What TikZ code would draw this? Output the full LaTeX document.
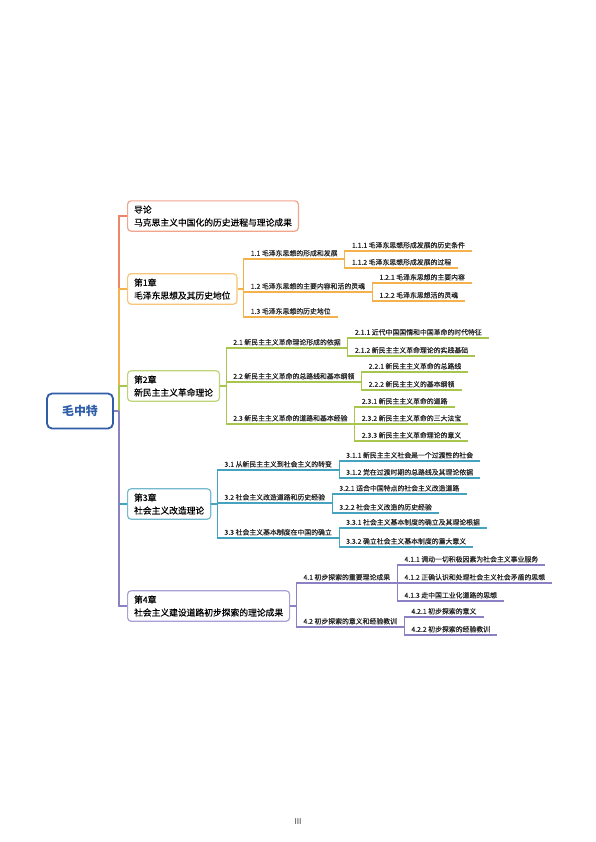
\documentclass[tikz,border=0pt]{standalone}
\usepackage{fontspec}
\setmainfont{Noto Sans CJK SC}
\newfontfamily\medfont{Noto Sans CJK SC}[FakeBold=0.35]
\usepackage{xcolor}
\definecolor{colRoot}{HTML}{2F5DA8}
\definecolor{colIntro}{HTML}{EE8566}
\definecolor{colOne}{HTML}{F5B14C}
\definecolor{colTwo}{HTML}{A8C64D}
\definecolor{colThree}{HTML}{46A3BF}
\definecolor{colFour}{HTML}{8A82C5}
\definecolor{colText}{HTML}{262626}
\usepackage{tikz}
\usetikzlibrary{calc}
\tikzset{
	rootbox/.style={draw=colRoot, line width=1.8bp, rounded corners=5bp, minimum width=66bp, minimum height=35bp, font=\fontsize{12}{14}\selectfont\bfseries, text=colRoot, fill=white},
	chapbox/.style={draw=#1!75, line width=1.2bp, rounded corners=3.5bp, fill=white, align=left, anchor=west, inner xsep=6.5bp, inner ysep=4.6bp, font=\medfont\fontsize{8.8}{13}\selectfont, text=black},
	subnode/.style={anchor=south west, inner xsep=7bp, inner ysep=2.4bp, font=\medfont\fontsize{6.9}{8}\selectfont, text=colText},
	trunkline/.style={draw=#1, line width=1.5bp},
	twig/.style={draw=#1, line width=1.1bp},
}

\begin{document}
\begin{tikzpicture}[x=1bp, y=-1bp]
	\useasboundingbox (0,0) rectangle (596,842);

	% Root and chapters
	\node[rootbox] (root) at (80,411) {毛中特};
	\coordinate (trunk) at (119,411);
	\node[chapbox=colIntro] (ch0) at (127,216) {导论\\马克思主义中国化的历史进程与理论成果};
	\node[chapbox=colOne] (ch1) at (127,289) {第1章\\毛泽东思想及其历史地位};
	\node[chapbox=colTwo] (ch2) at (127,386) {第2章\\新民主主义革命理论};
	\node[chapbox=colThree] (ch3) at (127,504) {第3章\\社会主义改造理论};
	\node[chapbox=colFour] (ch4) at (127,606) {第4章\\社会主义建设道路初步探索的理论成果};

	\draw[trunkline=colIntro] (trunk) |- (ch0.west);
	\draw[trunkline=colOne] (trunk) |- (ch1.west);
	\draw[trunkline=colTwo] (trunk) |- (ch2.west);
	\draw[trunkline=colThree] (trunk) |- (ch3.west);
	\draw[trunkline=colFour] (trunk) |- (ch4.west);
	\draw[trunkline=colFour] (root.east) -- (trunk);

	% Chapter 1
	\coordinate (j1) at ($(ch1.east)+(6,0)$);
	\node[subnode] (s11) at (j1 |- 0,259) {1.1 毛泽东思想的形成和发展};
	\node[subnode] (s12) at (j1 |- 0,292) {1.2 毛泽东思想的主要内容和活的灵魂};
	\node[subnode] (s13) at (j1 |- 0,317) {1.3 毛泽东思想的历史地位};
	\foreach \s in {s11,s12,s13}
		\draw[twig=colOne] (ch1.east) -- (j1) |- (\s.south west) -- (\s.south east);
	\node[subnode] (s111) at (s11.south east |- 0,251) {1.1.1 毛泽东思想形成发展的历史条件};
	\node[subnode] (s112) at (s11.south east |- 0,268) {1.1.2 毛泽东思想形成发展的过程};
	\node[subnode] (s121) at (s12.south east |- 0,283) {1.2.1 毛泽东思想的主要内容};
	\node[subnode] (s122) at (s12.south east |- 0,301) {1.2.2 毛泽东思想活的灵魂};
	\foreach \p/\s in {s11/s111,s11/s112,s12/s121,s12/s122}
		\draw[twig=colOne] (\p.south east) |- (\s.south west) -- (\s.south east);

	% Chapter 2
	\coordinate (j2) at ($(ch2.east)+(6,0)$);
	\node[subnode] (s21) at (j2 |- 0,348) {2.1 新民主主义革命理论形成的依据};
	\node[subnode] (s22) at (j2 |- 0,382) {2.2 新民主主义革命的总路线和基本纲领};
	\node[subnode] (s23) at (j2 |- 0,424) {2.3 新民主主义革命的道路和基本经验};
	\foreach \s in {s21,s22,s23}
		\draw[twig=colTwo] (ch2.east) -- (j2) |- (\s.south west) -- (\s.south east);
	\node[subnode] (s211) at (s21.south east |- 0,338) {2.1.1 近代中国国情和中国革命的时代特征};
	\node[subnode] (s212) at (s21.south east |- 0,356) {2.1.2 新民主主义革命理论的实践基础};
	\node[subnode] (s221) at (s22.south east |- 0,372) {2.2.1 新民主主义革命的总路线};
	\node[subnode] (s222) at (s22.south east |- 0,390) {2.2.2 新民主主义的基本纲领};
	\node[subnode] (s231) at (s23.south east |- 0,407) {2.3.1 新民主主义革命的道路};
	\node[subnode] (s232) at (s23.south east |- 0,424) {2.3.2 新民主主义革命的三大法宝};
	\node[subnode] (s233) at (s23.south east |- 0,441) {2.3.3 新民主主义革命理论的意义};
	\foreach \p/\s in {s21/s211,s21/s212,s22/s221,s22/s222,s23/s231,s23/s232,s23/s233}
		\draw[twig=colTwo] (\p.south east) |- (\s.south west) -- (\s.south east);

	% Chapter 3
	\coordinate (j3) at ($(ch3.east)+(6,0)$);
	\node[subnode] (s31) at (j3 |- 0,470) {3.1 从新民主主义到社会主义的转变};
	\node[subnode] (s32) at (j3 |- 0,503) {3.2 社会主义改造道路和历史经验};
	\node[subnode] (s33) at (j3 |- 0,538) {3.3 社会主义基本制度在中国的确立};
	\foreach \s in {s31,s32,s33}
		\draw[twig=colThree] (ch3.east) -- (j3) |- (\s.south west) -- (\s.south east);
	\node[subnode] (s311) at (s31.south east |- 0,461) {3.1.1 新民主主义社会是一个过渡性的社会};
	\node[subnode] (s312) at (s31.south east |- 0,478) {3.1.2 党在过渡时期的总路线及其理论依据};
	\node[subnode] (s321) at (s32.south east |- 0,494) {3.2.1 适合中国特点的社会主义改造道路};
	\node[subnode] (s322) at (s32.south east |- 0,513) {3.2.2 社会主义改造的历史经验};
	\node[subnode] (s331) at (s33.south east |- 0,528) {3.3.1 社会主义基本制度的确立及其理论根据};
	\node[subnode] (s332) at (s33.south east |- 0,547) {3.3.2 确立社会主义基本制度的重大意义};
	\foreach \p/\s in {s31/s311,s31/s312,s32/s321,s32/s322,s33/s331,s33/s332}
		\draw[twig=colThree] (\p.south east) |- (\s.south west) -- (\s.south east);

	% Chapter 4
	\coordinate (j4) at ($(ch4.east)+(6,0)$);
	\node[subnode] (s41) at (j4 |- 0,583) {4.1 初步探索的重要理论成果};
	\node[subnode] (s42) at (j4 |- 0,627) {4.2 初步探索的意义和经验教训};
	\foreach \s in {s41,s42}
		\draw[twig=colFour] (ch4.east) -- (j4) |- (\s.south west) -- (\s.south east);
	\node[subnode] (s411) at (s41.south east |- 0,565) {4.1.1 调动一切积极因素为社会主义事业服务};
	\node[subnode] (s412) at (s41.south east |- 0,583) {4.1.2 正确认识和处理社会主义社会矛盾的思想};
	\node[subnode] (s413) at (s41.south east |- 0,601) {4.1.3 走中国工业化道路的思想};
	\node[subnode] (s421) at (s42.south east |- 0,617) {4.2.1 初步探索的意义};
	\node[subnode] (s422) at (s42.south east |- 0,635) {4.2.2 初步探索的经验教训};
	\foreach \p/\s in {s41/s411,s41/s412,s41/s413,s42/s421,s42/s422}
		\draw[twig=colFour] (\p.south east) |- (\s.south west) -- (\s.south east);

	% Page number
	\node[font=\fontsize{8}{9}\selectfont, text=black!80] (pageno) at (298,822) {III};
\end{tikzpicture}
\end{document}
